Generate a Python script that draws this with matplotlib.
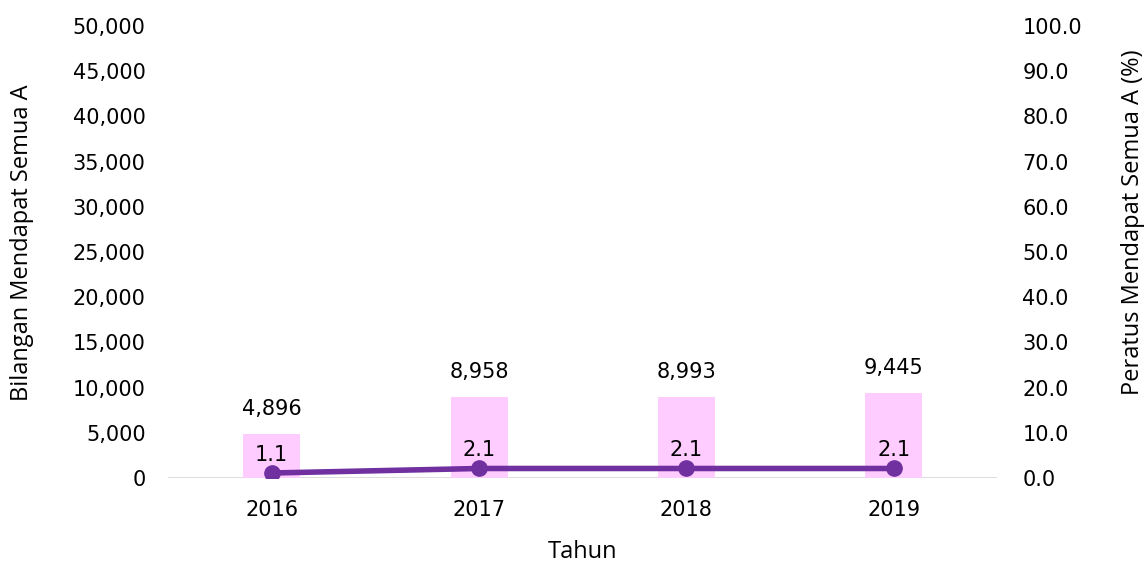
import matplotlib
matplotlib.use("Agg")
import matplotlib.pyplot as plt
from matplotlib.ticker import FuncFormatter, MultipleLocator

years = ["2016", "2017", "2018", "2019"]
counts = [4896, 8958, 8993, 9445]
percents = [1.1, 2.1, 2.1, 2.1]

bar_color = "#FFCCFF"
line_color = "#7030A0"
text_color = "#000000"

plt.rcParams["font.family"] = ["DejaVu Sans"]

fig = plt.figure(figsize=(11.48, 5.62), dpi=100)
ax = fig.add_axes([0.1463, 0.1495, 0.7226, 0.8042])
ax2 = ax.twinx()

x = list(range(len(years)))
ax.bar(x, counts, width=0.275, color=bar_color, zorder=2)
ax.set_ylim(0, 50000)
ax.set_xlim(-0.5, len(years) - 0.5)
ax.yaxis.set_major_locator(MultipleLocator(5000))
ax.yaxis.set_major_formatter(FuncFormatter(lambda v, p: f"{int(v):,}"))

ax2.plot(x, percents, color=line_color, lw=4, marker="o", ms=11, zorder=3,
         solid_capstyle="round")
ax2.set_ylim(0, 100)
ax2.yaxis.set_major_locator(MultipleLocator(10))
ax2.yaxis.set_major_formatter(FuncFormatter(lambda v, p: f"{v:.1f}"))

for a in (ax, ax2):
    for s in a.spines.values():
        s.set_visible(False)
    a.tick_params(axis="both", length=0, labelsize=15, colors=text_color)

ax.axhline(0, color="#D9D9D9", lw=2, zorder=1)
ax.set_xticks(x)
ax.set_xticklabels(years)
ax.tick_params(axis="x", pad=16)
ax.tick_params(axis="y", pad=16)
ax2.tick_params(axis="y", pad=18)

for xi, c in zip(x, counts):
    ax.annotate(f"{c:,}", (xi, c), xytext=(0, 10.5), textcoords="offset points",
                ha="center", va="bottom", fontsize=15, color=text_color)
for xi, p in zip(x, percents):
    ax2.annotate(f"{p:.1f}", (xi, p), xytext=(0, 6), textcoords="offset points",
                 ha="center", va="bottom", fontsize=15, color=text_color, zorder=4)

ax.set_ylabel("Bilangan Mendapat Semua A", fontsize=17, family="Open Sans",
              ha="center", va="center")
ax.yaxis.set_label_coords(-0.176, 0.52)
ax2.set_ylabel("Peratus Mendapat Semua A (%)", fontsize=17, family="Open Sans",
               ha="center", va="center")
ax2.yaxis.set_label_coords(1.163, 0.566)
ax.set_xlabel("Tahun", fontsize=17, family="Open Sans", labelpad=14)

fig.savefig("out.png", dpi=100)
